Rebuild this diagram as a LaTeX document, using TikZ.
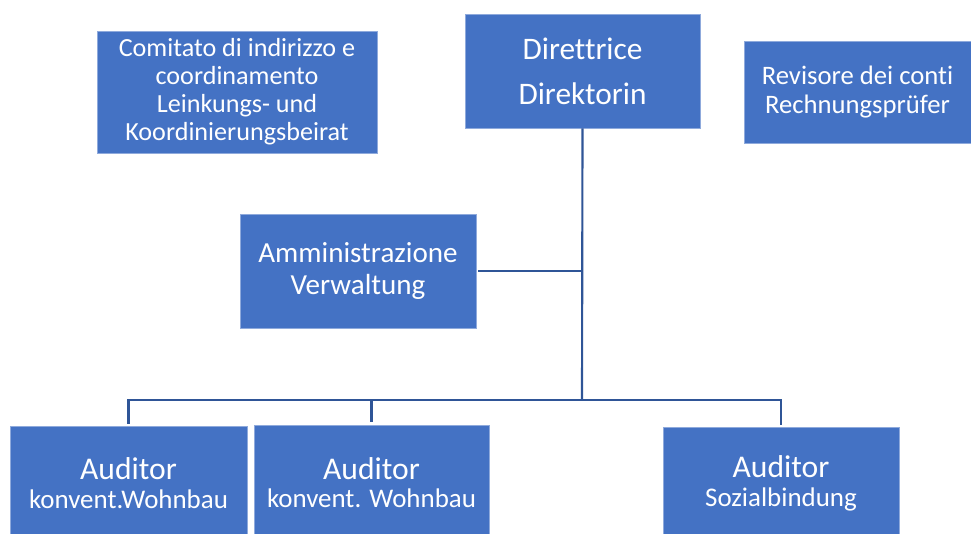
\documentclass[tikz,border=0pt]{standalone}
\usepackage{fontspec}
\setmainfont{Carlito}[Ligatures=NoCommon]
\definecolor{boxblue}{HTML}{4472C4}
\definecolor{lineblue}{HTML}{2F5597}
\definecolor{edgeblue}{HTML}{8FAADC}
\begin{document}
\begin{tikzpicture}[x=0.75pt,y=-0.75pt,
  box/.style={rectangle,fill=boxblue,draw=edgeblue,line width=0.5pt,text=white,align=center,inner sep=0pt},
  conn/.style={draw=lineblue,line width=1.6pt}]
\useasboundingbox (0,0) rectangle (971,534);
\node[box,minimum width=210pt,minimum height=91.5pt,font={\fontsize{19.6}{21}\selectfont}] (com) at (237,92)
  {Comitato di indirizzo e\\coordinamento\\Leinkungs- und\\Koordinierungsbeirat};
\node[box,minimum width=176.25pt,minimum height=85.5pt,font={\fontsize{23.5}{33.75}\selectfont}] (dir) at (582.5,71)
  {Direttrice\\Direktorin};
\node[box,minimum width=170.25pt,minimum height=76.5pt,font={\fontsize{20}{21.5}\selectfont}] (rev) at (857.5,92)
  {Revisore dei conti\\Rechnungsprüfer};
\node[box,minimum width=177pt,minimum height=85.5pt,font={\fontsize{21.8}{24}\selectfont}] (amm) at (358,271)
  {Amministrazione\\Verwaltung};
\tikzset{aud/.style={box,font={\fontsize{20.2}{21.5}\selectfont}}}
\node[aud,minimum width=177.75pt,minimum height=85.5pt] (aud1) at (128.5,483)
  {{\fontsize{23.7}{21.5}\selectfont Auditor}\\konvent.Wohnbau};
\node[aud,minimum width=176.25pt,minimum height=86.25pt] (aud2) at (371.5,482.5)
  {{\fontsize{23.7}{21.5}\selectfont Auditor}\\konvent. Wohnbau};
\node[aud,minimum width=177pt,minimum height=84.75pt] (aud3) at (781,483.5)
  {{\fontsize{23.7}{21.5}\selectfont Auditor}\\Sozialbindung};
\coordinate (j) at (582,271);
\coordinate (b) at (582,400);
\draw[conn] (dir.south) -- (b);
\draw[conn] ([xshift=1.5pt]amm.east) -- (j);
\draw[conn,shorten <=1.5pt] (aud1.north) |- (b);
\draw[conn,shorten >=1.5pt] (b) -| (aud3.north);
\draw[conn,shorten <=2pt] (aud2.north) -- (aud2.north |- b);
\end{tikzpicture}
\end{document}
